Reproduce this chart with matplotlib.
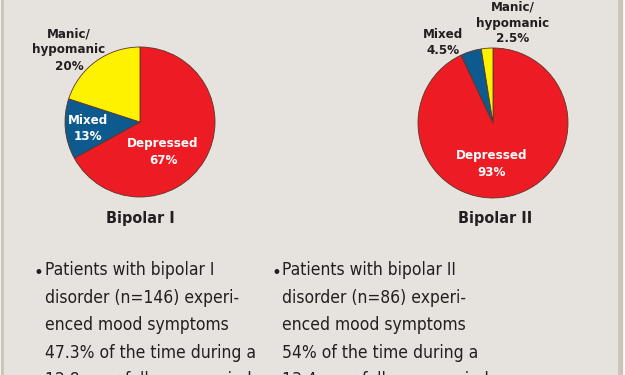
import matplotlib
matplotlib.use('Agg')
import matplotlib.pyplot as plt

# pie data (clockwise from 12 o'clock)
labels = ['Depressed', 'Mixed', 'Manic/\nhypomanic']
bp1_vals = [67, 13, 20]
bp2_vals = [93, 4.5, 2.5]
bp1_txt = ['67%', '13%', '20%']
bp2_txt = ['93%', '4.5%', '2.5%']
titles = ['Bipolar I', 'Bipolar II']
bullets = [
    'Patients with bipolar I\ndisorder (n=146) experi-\nenced mood symptoms\n47.3% of the time during a\n12.8-year follow-up period',
    'Patients with bipolar II\ndisorder (n=86) experi-\nenced mood symptoms\n54% of the time during a\n13.4-year follow-up period',
]

colors = ['#ed1c24', '#0d5a8e', '#fff200']
bg = '#e6e3df'
edge = '#c9c3b8'

fam = ['Liberation Sans Narrow', 'DejaVu Sans']
plt.rcParams['font.family'] = fam

fig = plt.figure(figsize=(6.25, 3.75), dpi=100)
fig.patch.set_facecolor('white')
ax = fig.add_axes([0, 0, 1, 1])

# panel background and side borders
ax.add_patch(plt.Rectangle((1, 0), 621, 375, color=edge, zorder=0))
ax.add_patch(plt.Rectangle((4, 0), 613, 375, color=bg, zorder=0))

def H(y):
    return 375 - y

wp = dict(edgecolor='#5b3428', linewidth=0.6)
ax.pie(bp1_vals, colors=colors, startangle=90, counterclock=False,
       center=(140, H(122)), radius=75, wedgeprops=wp, frame=True)
ax.pie(bp2_vals, colors=colors, startangle=90, counterclock=False,
       center=(493, H(123)), radius=75, wedgeprops=wp, frame=True)
ax.set_xlim(0, 625)
ax.set_ylim(0, 375)
ax.axis('off')

tk = dict(fontsize=9.5, fontweight='bold', ha='center', va='center',
          fontstretch='condensed', linespacing=1.3)
dark = '#231f20'
# Bipolar I labels
ax.text(163, H(152), labels[0] + '\n' + bp1_txt[0], color='white', **tk)
ax.text(88, H(128), labels[1] + '\n' + bp1_txt[1], color='white', **tk)
ax.text(69, H(50), labels[2] + '\n' + bp1_txt[2], color=dark, **tk)
# Bipolar II labels
ax.text(492, H(164), labels[0] + '\n' + bp2_txt[0], color='white', **tk)
ax.text(443, H(42), labels[1] + '\n' + bp2_txt[1], color=dark, **tk)
ax.text(513, H(23), labels[2] + '\n' + bp2_txt[2], color=dark, **tk)

ax.text(140, H(218), titles[0], color=dark, fontsize=11.5, fontweight='bold',
        ha='center', va='center', fontstretch='condensed')
ax.text(495, H(218), titles[1], color=dark, fontsize=11.5, fontweight='bold',
        ha='center', va='center', fontstretch='condensed')

# bullet text
for x0, txt in zip([34, 271], bullets):
    ax.text(x0, H(273), '\u2022', color=dark, fontsize=12, ha='left', va='center')
    ax.text(x0 + 11, H(261), txt, color=dark, fontsize=12.5, ha='left', va='top',
            fontstretch='condensed', linespacing=1.68)

fig.savefig('out.png', dpi=100, facecolor=fig.get_facecolor())
